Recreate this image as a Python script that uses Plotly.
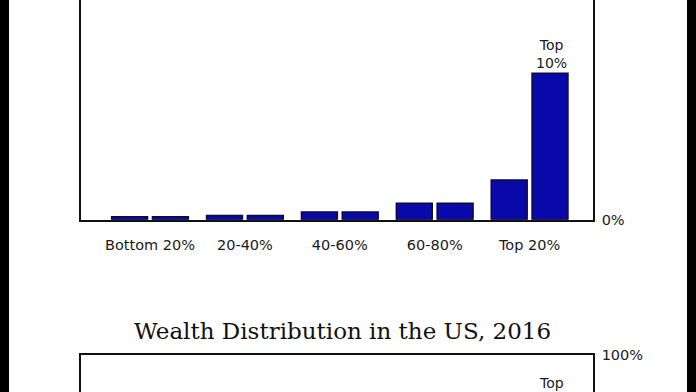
import plotly.graph_objects as go

W, H = 696, 392

# ---- data (share of total, %) ----
categories = ["Bottom 20%", "20-40%", "40-60%", "60-80%", "Top 20%"]
lower_decile = [1.2, 1.7, 3.1, 6.6, 15.9]   # first 10% of each quintile
upper_decile = [1.2, 1.7, 3.1, 6.6, 58.8]   # second 10% of each quintile
title_text = "Wealth Distribution in the US, 2016"
top_label = "Top<br>10%"
lower_top_label = "Top"   # only this part is visible in the frame

# ---- layout geometry (pixels) ----
box_left, box_right = 81, 593
base_y = 219.7          # baseline of upper chart
full_h = 249.0          # pixel height of 0..100% span
lower_top = 355         # top of lower chart box

def px(x):
    return x / W

def py(y):
    return (H - y) / H

fill = "#0909aa"
edge = "#0a0a3c"
font_fam = "DejaVu Sans"
tick_font = dict(family=font_fam, size=14.5, color="#1a1a1a")

fig = go.Figure()
for vals, name in [(lower_decile, "lower"), (upper_decile, "upper")]:
    fig.add_trace(go.Bar(
        x=categories, y=vals, name=name,
        marker=dict(color=fill, line=dict(color=edge, width=1.5)),
        xaxis="x", yaxis="y", showlegend=False, hoverinfo="skip",
    ))

# category range so pair centres land on reference positions
slot = 94.9
first_center = 150.0
xr = [-(first_center - box_left) / slot, 4 + (box_right - (first_center + 4 * slot)) / slot]

upper_range = [0, 100 * base_y / full_h]
lower_range = [100 - 100 * (H - lower_top) / full_h, 100]

axis_common = dict(showgrid=False, zeroline=False, linecolor="#111", linewidth=1.5,
                   automargin=False)

fig.update_layout(
    width=W, height=H,
    margin=dict(l=0, r=0, t=0, b=0, pad=0, autoexpand=False),
    paper_bgcolor="white", plot_bgcolor="white",
    barmode="group", bargap=0.14, bargroupgap=0.12,
    xaxis=dict(domain=[px(box_left), px(box_right)], anchor="y", type="category",
               range=xr, showline=True, ticks="", ticklabelstandoff=11,
               tickfont=tick_font, **axis_common),
    yaxis=dict(domain=[py(base_y), 1], anchor="x", side="right", range=upper_range,
               showline=True, mirror=True, ticks="", tickvals=[0], ticktext=["0%"],
               ticklabelstandoff=4, tickfont=tick_font, **axis_common),
    xaxis2=dict(domain=[px(box_left), px(box_right)], anchor="y2", type="category",
                range=xr, side="top", showline=True, showticklabels=False, ticks="",
                categoryarray=categories, categoryorder="array", **axis_common),
    yaxis2=dict(domain=[0, py(lower_top)], anchor="x2", side="right", range=lower_range,
                showline=True, mirror=True, ticks="", tickvals=[100], ticktext=["100%"],
                ticklabelstandoff=4, tickfont=tick_font, **axis_common),
)

# invisible trace to activate lower axes
fig.add_trace(go.Bar(x=categories, y=[None] * 5, xaxis="x2", yaxis="y2",
                     showlegend=False, hoverinfo="skip"))

fig.add_annotation(x=categories[-1], y=upper_decile[-1], xref="x", yref="y",
                   text=top_label, showarrow=False, xshift=21.5, yanchor="bottom", yshift=0,
                   font=dict(family=font_fam, size=14, color="#1a1a1a"))
fig.add_annotation(x=categories[-1], y=100 - 100 * 18 / full_h, xref="x2", yref="y2",
                   text=lower_top_label, showarrow=False, xshift=21.5, yanchor="top",
                   font=dict(family=font_fam, size=14, color="#1a1a1a"))
fig.add_annotation(x=px(342.5), y=py(331), xref="paper", yref="paper",
                   text=title_text, showarrow=False, xanchor="center", yanchor="middle",
                   font=dict(family="DejaVu Serif", size=23, color="#111"))

# black video side bars
fig.add_shape(type="rect", xref="paper", yref="paper", x0=0, x1=px(9), y0=0, y1=1,
              fillcolor="black", line=dict(width=0))
fig.add_shape(type="rect", xref="paper", yref="paper", x0=px(687), x1=1, y0=0, y1=1,
              fillcolor="black", line=dict(width=0))

fig.write_html("out.html", config={"displayModeBar": False},
               post_script="document.body.style.margin='0';document.body.style.overflow='hidden';")
